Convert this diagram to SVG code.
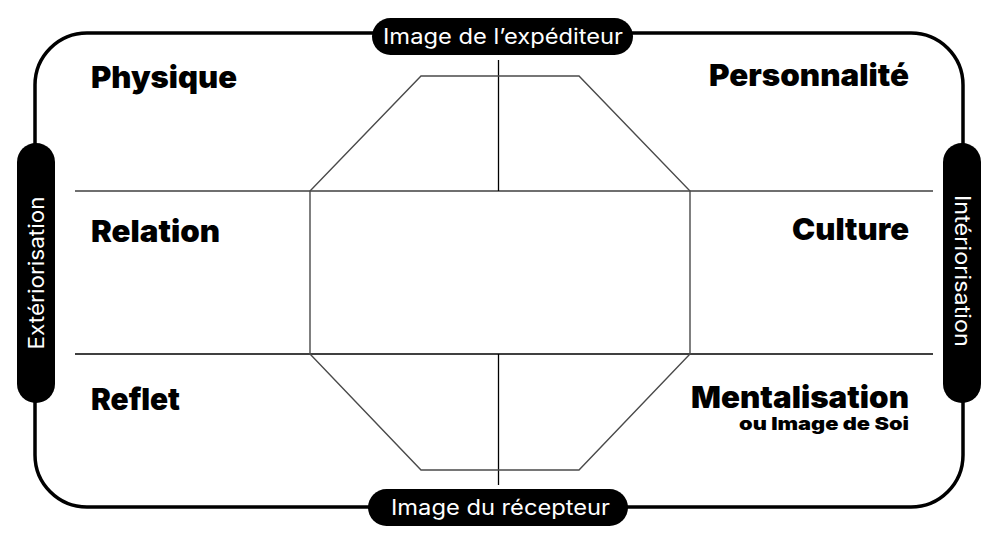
<svg xmlns="http://www.w3.org/2000/svg" width="1000" height="546" viewBox="0 0 1000 546">
<style>
.pill{fill:#000}
.pt{fill:#fff;font-family:Inter,"Open Sans","DejaVu Sans",sans-serif;font-weight:400;font-size:21px}
.lbl{fill:#000;font-family:Inter,"Open Sans","DejaVu Sans",sans-serif;font-weight:900;font-size:30px}
.sub{fill:#000;font-family:Inter,"Open Sans","DejaVu Sans",sans-serif;font-weight:900;font-size:18px}
.thin{stroke:#000;stroke-width:1.3;fill:none}
.grey{stroke:#6f6f6f;stroke-width:2;fill:none}
.oct{stroke:#4a4a4a;stroke-width:1.4;fill:none}
</style>
<rect width="1000" height="546" fill="#fff"/>
<g id="frame">
<rect x="35" y="33" width="928" height="474" rx="52" ry="52" fill="none" stroke="#000" stroke-width="3.5"/>
</g>
<g id="connectors">
<line class="grey" x1="75" y1="191" x2="933" y2="191"/>
<line class="thin" x1="75" y1="354" x2="933" y2="354"/>
<line class="thin" x1="498.5" y1="60" x2="498.5" y2="191"/>
<line class="thin" x1="498.5" y1="354" x2="498.5" y2="485"/>
<polygon class="oct" points="421,76 579,76 690,191 690,354 579,470 421,470 310,354 310,191"/>
</g>
<g id="top-label">
<rect class="pill" x="372" y="18" width="261" height="37" rx="18.5"/>
<text class="pt" x="503" y="44" text-anchor="middle" textLength="240" lengthAdjust="spacingAndGlyphs">Image de l’expéditeur</text>
</g>
<g id="bottom-label">
<rect class="pill" x="368" y="489" width="260" height="37" rx="18.5"/>
<text class="pt" x="500.5" y="515" text-anchor="middle" textLength="219" lengthAdjust="spacingAndGlyphs">Image du récepteur</text>
</g>
<g id="left-label">
<rect class="pill" x="17" y="143" width="38" height="260" rx="19"/>
<text class="pt" transform="translate(43.5,273) rotate(-90)" text-anchor="middle" textLength="153" lengthAdjust="spacingAndGlyphs">Extériorisation</text>
</g>
<g id="right-label">
<rect class="pill" x="943" y="143" width="38" height="260" rx="19"/>
<text class="pt" transform="translate(954.5,271) rotate(90)" text-anchor="middle" textLength="152" lengthAdjust="spacingAndGlyphs">Intériorisation</text>
</g>
<g id="physique"><text class="lbl" x="91" y="88" textLength="146" lengthAdjust="spacingAndGlyphs">Physique</text></g>
<g id="personnalite"><text class="lbl" x="909" y="86" text-anchor="end" textLength="200" lengthAdjust="spacingAndGlyphs">Personnalité</text></g>
<g id="relation"><text class="lbl" x="91" y="242" textLength="129" lengthAdjust="spacingAndGlyphs">Relation</text></g>
<g id="culture"><text class="lbl" x="909" y="240" text-anchor="end" textLength="117" lengthAdjust="spacingAndGlyphs">Culture</text></g>
<g id="reflet"><text class="lbl" x="91" y="410" textLength="89" lengthAdjust="spacingAndGlyphs">Reflet</text></g>
<g id="mentalisation">
<text class="lbl" x="909" y="408" text-anchor="end" textLength="218" lengthAdjust="spacingAndGlyphs">Mentalisation</text>
<text class="sub" x="909" y="430" text-anchor="end" textLength="170" lengthAdjust="spacingAndGlyphs">ou Image de Soi</text>
</g>
</svg>
